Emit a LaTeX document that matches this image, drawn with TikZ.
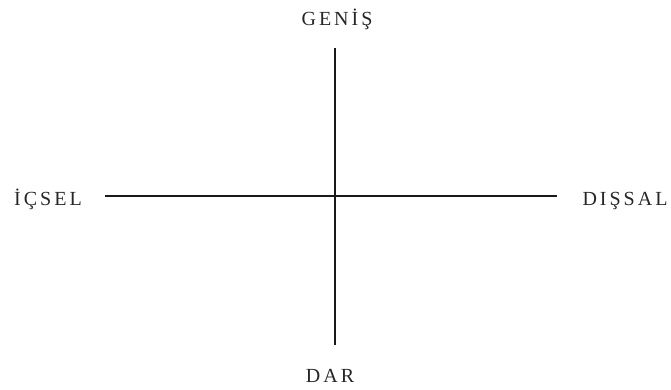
\documentclass[tikz,border=0pt]{standalone}
\usepackage{fontspec}
\setmainfont{Liberation Serif}[LetterSpace=15]
\begin{document}
\begin{tikzpicture}[x=1pt,y=-1pt,
  lbl/.style={font=\fontsize{20}{22}\selectfont, text=black!85, inner sep=0pt, anchor=base},
  axis/.style={line width=1.8pt, black!90}]
\useasboundingbox (0,0) rectangle (671,389);
\node[lbl] (genis) at (337,25) {GENİŞ};
\node[lbl] (dar) at (330,382) {DAR};
\node[lbl] (icsel) at (48,205) {İÇSEL};
\node[lbl] (dissal) at (625,205) {DIŞSAL};
\coordinate (top) at (335,48);
\coordinate (bottom) at (335,345);
\coordinate (left) at (105,196);
\coordinate (right) at (557,196);
\draw[axis] (top) -- (bottom);
\draw[axis] (left) -- (right);
\end{tikzpicture}
\end{document}
